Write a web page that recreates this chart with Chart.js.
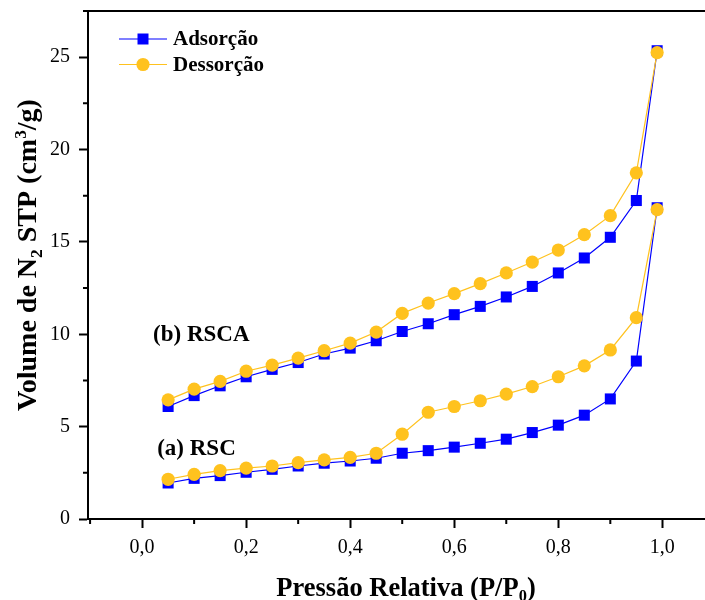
<!DOCTYPE html>
<html>
<head>
<meta charset="utf-8">
<script src="https://cdn.jsdelivr.net/npm/chart.js@4.4.0/dist/chart.umd.min.js"></script>
<style>
  body { margin: 0; background: #fff; }
  #wrap { width: 705px; height: 600px; }
</style>
</head>
<body>
<div id="wrap"><canvas id="canvas1"></canvas></div>
<script>
// pressao relativa P/P0
const pressao = [0.05, 0.10, 0.15, 0.20, 0.25, 0.30, 0.35, 0.40, 0.45, 0.50,
                 0.55, 0.60, 0.65, 0.70, 0.75, 0.80, 0.85, 0.90, 0.95, 0.99];

// (a) RSC
const rscAds = [1.95, 2.20, 2.35, 2.53, 2.69, 2.87, 3.02, 3.14, 3.29, 3.56,
                3.70, 3.89, 4.10, 4.32, 4.68, 5.08, 5.62, 6.50, 8.55, 16.85];
const rscDes = [2.15, 2.42, 2.62, 2.75, 2.87, 3.05, 3.20, 3.34, 3.56, 4.59,
                5.78, 6.09, 6.40, 6.76, 7.17, 7.70, 8.29, 9.15, 10.90, 16.75];

// (b) RSCA
const rscaAds = [6.09, 6.68, 7.21, 7.70, 8.10, 8.47, 8.93, 9.25, 9.65, 10.15,
                 10.57, 11.06, 11.51, 12.02, 12.59, 13.32, 14.13, 15.25, 17.24, 25.35];
const rscaDes = [6.45, 7.03, 7.45, 8.00, 8.33, 8.71, 9.11, 9.52, 10.12, 11.13,
                 11.69, 12.20, 12.74, 13.32, 13.91, 14.56, 15.39, 16.42, 18.74, 25.25];

const serieNomes = ['Adsorção', 'Dessorção'];
const rotulos = [
    { text: '(b) RSCA', x: 0.021, y: 9.65 },
    { text: '(a) RSC', x: 0.029, y: 3.46 }
];
// titulos com sub/sobrescrito
const tituloX = [{ t: 'Pressão Relativa (P/P' }, { t: '0', s: 'sub' }, { t: ')' }];
const tituloY = [{ t: 'Volume de N' }, { t: '2', s: 'sub' }, { t: ' STP (cm' },
                 { t: '3', s: 'sup' }, { t: '/g)' }];

const AZUL = '#0000FF';
const AMARELO = '#FFC21E';
const pts = (ys) => pressao.map((x, i) => ({ x: x, y: ys[i] }));

const isMajor = (v, step) => Math.abs(v / step - Math.round(v / step)) < 1e-6;

const ads = (ys) => ({
    label: serieNomes[0], data: pts(ys), order: 2,
    borderColor: AZUL, backgroundColor: AZUL, borderWidth: 1.2,
    pointStyle: 'rect', pointRadius: 7.8, pointBorderWidth: 0
});
const des = (ys) => ({
    label: serieNomes[1], data: pts(ys), order: 1,
    borderColor: AMARELO, backgroundColor: AMARELO, borderWidth: 1.2,
    pointStyle: 'circle', pointRadius: 6.6, pointBorderWidth: 0
});

function richText(ctx, parts, size, cx, cy, angle) {
    const f = (s) => 'bold ' + s + 'px "Liberation Serif", serif';
    ctx.save();
    ctx.translate(cx, cy);
    ctx.rotate(angle);
    let w = 0;
    parts.forEach(p => {
        ctx.font = f(p.s ? size * 0.62 : size);
        w += ctx.measureText(p.t).width;
    });
    let x = -w / 2;
    ctx.textAlign = 'left';
    ctx.textBaseline = 'alphabetic';
    ctx.fillStyle = '#000';
    parts.forEach(p => {
        ctx.font = f(p.s ? size * 0.62 : size);
        const dy = p.s === 'sub' ? size * 0.2 : (p.s === 'sup' ? -size * 0.36 : 0);
        ctx.fillText(p.t, x, size * 0.33 + dy);
        x += ctx.measureText(p.t).width;
    });
    ctx.restore();
}

// ticks menores, borda de cima, legenda, rotulos e titulos
const extras = {
    id: 'extras',
    afterDraw(chart) {
        const ctx = chart.ctx, a = chart.chartArea;
        const sx = chart.scales.x, sy = chart.scales.y;
        ctx.save();
        ctx.strokeStyle = '#000';
        ctx.lineWidth = 2;
        ctx.beginPath();
        ctx.moveTo(a.left - 1, a.top);
        ctx.lineTo(a.right, a.top);
        ctx.stroke();
        ctx.beginPath();
        sx.ticks.forEach(t => {
            if (!isMajor(t.value, 0.2)) {
                const px = sx.getPixelForValue(t.value);
                ctx.moveTo(px, a.bottom);
                ctx.lineTo(px, a.bottom + 5);
            }
        });
        sy.ticks.forEach(t => {
            if (!isMajor(t.value, 5)) {
                const py = sy.getPixelForValue(t.value);
                ctx.moveTo(a.left, py);
                ctx.lineTo(a.left - 5, py);
            }
        });
        ctx.stroke();

        // legenda
        const cores = [AZUL, AMARELO];
        ctx.font = 'bold 21px "Liberation Serif", serif';
        ctx.textBaseline = 'middle';
        ctx.textAlign = 'left';
        serieNomes.forEach((nome, i) => {
            const yy = 39 + i * 25.5;
            ctx.strokeStyle = cores[i];
            ctx.lineWidth = 1.2;
            ctx.beginPath();
            ctx.moveTo(119, yy);
            ctx.lineTo(167, yy);
            ctx.stroke();
            ctx.fillStyle = cores[i];
            ctx.beginPath();
            if (i === 0) ctx.rect(143 - 5.5, yy - 5.5, 11, 11);
            else ctx.arc(143, yy, 6.6, 0, Math.PI * 2);
            ctx.fill();
            ctx.fillStyle = '#000';
            ctx.fillText(nome, 173, yy + 1);
        });

        // rotulos das amostras
        ctx.font = 'bold 23px "Liberation Serif", serif';
        ctx.textBaseline = 'alphabetic';
        rotulos.forEach(r => {
            ctx.fillText(r.text, sx.getPixelForValue(r.x), sy.getPixelForValue(r.y));
        });
        ctx.restore();

        richText(ctx, tituloX, 26.5, 406, 587, 0);
        richText(ctx, tituloY, 28, 27, 255, -Math.PI / 2);
    }
};

const ctx1 = document.getElementById('canvas1');

new Chart(ctx1, {
    type: 'line',
    data: {
        datasets: [ads(rscAds), des(rscDes), ads(rscaAds), des(rscaDes)]
    },
    plugins: [extras],
    options: {
        responsive: true,
        maintainAspectRatio: false,
        animation: false,
        layout: { autoPadding: false, padding: { top: 11, right: 0, left: 0, bottom: 0 } },
        plugins: {
            legend: { display: false },
            tooltip: { enabled: false }
        },
        scales: {
            x: {
                type: 'linear',
                min: -0.104,
                max: 1.082,
                afterFit: (s) => { s.height = 81; s.paddingLeft = 0; s.paddingRight = 0; },
                border: { color: '#000', width: 2 },
                grid: {
                    drawOnChartArea: false,
                    tickLength: 9,
                    tickWidth: 2,
                    tickColor: (c) => isMajor(c.tick.value, 0.2) ? '#000' : 'rgba(0,0,0,0)'
                },
                ticks: {
                    stepSize: 0.1,
                    includeBounds: false,
                    autoSkip: false,
                    maxRotation: 0,
                    padding: 8,
                    color: '#000',
                    font: { family: '"Liberation Serif", serif', size: 20 },
                    callback: (v) => isMajor(v, 0.2) ? v.toFixed(1).replace('.', ',') : ''
                }
            },
            y: {
                min: 0,
                max: 27.5,
                afterFit: (s) => { s.width = 88; s.paddingTop = 0; s.paddingBottom = 0; },
                border: { color: '#000', width: 2 },
                grid: {
                    drawOnChartArea: false,
                    tickLength: 9,
                    tickWidth: 2,
                    tickColor: (c) => isMajor(c.tick.value, 5) ? '#000' : 'rgba(0,0,0,0)'
                },
                ticks: {
                    stepSize: 2.5,
                    autoSkip: false,
                    padding: 9,
                    color: '#000',
                    font: { family: '"Liberation Serif", serif', size: 20 },
                    callback: (v) => isMajor(v, 5) ? String(v) : ''
                }
            }
        }
    }
});
</script>
</body>
</html>
